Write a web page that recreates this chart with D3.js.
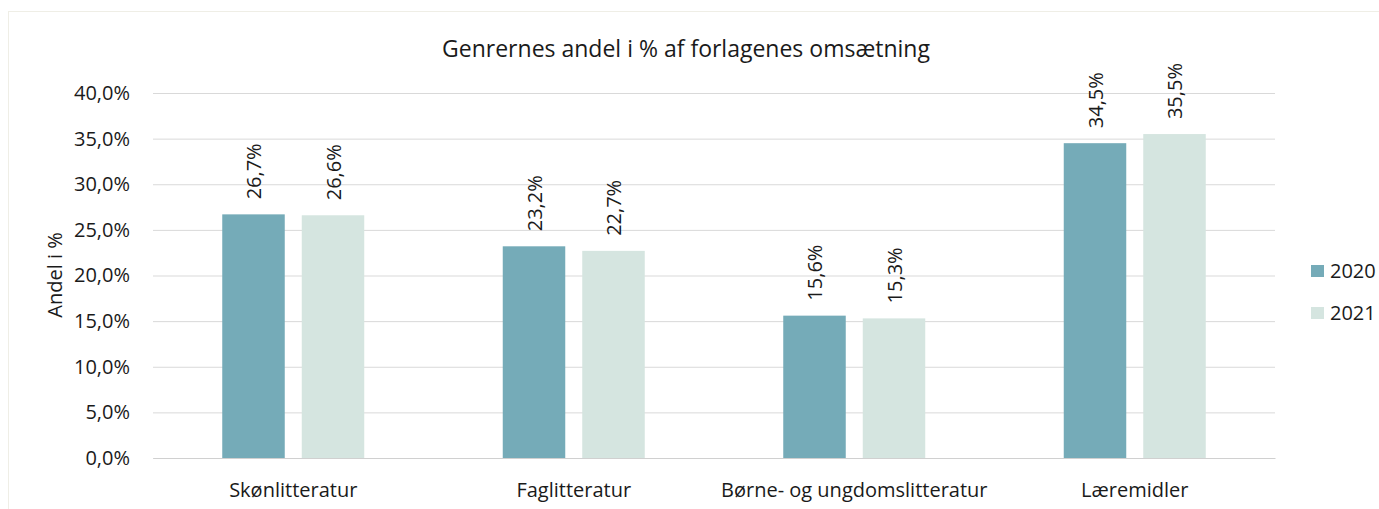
<!DOCTYPE html>
<html><head><meta charset="utf-8">
<script src="https://cdn.jsdelivr.net/npm/d3@7"></script>
<style>body{margin:0;background:#fff}text{font-family:"Open Sans",sans-serif;fill:#1a1a1a}</style>
</head><body>
<svg id="c" width="1379" height="509"></svg>
<script>
const categories = ["Skønlitteratur","Faglitteratur","Børne- og ungdomslitteratur","Læremidler"];
const seriesNames = ["2020","2021"];
const values2020 = [26.7,23.2,15.6,34.5];
const values2021 = [26.6,22.7,15.3,35.5];
const yTicks = [0,5,10,15,20,25,30,35,40];
const colors = ["#75abb8","#d5e5e0"];
const fmt = v => d3.format(".1f")(v).replace(".",",") + "%";

const svg = d3.select("#c");
svg.append("rect").attr("x",8.5).attr("y",11.5).attr("width",1400).attr("height",600)
  .attr("fill","#fff").attr("stroke","#efeee6");

const L=153,R=1275,T=93,B=458;
const x = d3.scaleBand().domain(categories).range([L,R]);
const y = d3.scaleLinear().domain([0,40]).range([B,T]);
const barW=62.5, gap=17, step=barW+gap;
const xs = d3.scaleBand().domain(seriesNames).range([-(step*2-gap)/2, (step*2-gap)/2])
  .paddingInner(gap/step).paddingOuter(0);

const ya = svg.append("g").attr("transform",`translate(${L},0)`)
  .call(d3.axisLeft(y).tickValues(yTicks).tickSize(-(R-L)).tickFormat(fmt).tickPadding(23));
ya.select(".domain").remove();
ya.selectAll("line").attr("stroke","#d9d9d9");
ya.selectAll("text").attr("font-size",20).attr("fill","#1a1a1a");

const xa = svg.append("g").attr("transform",`translate(0,${B})`)
  .call(d3.axisBottom(x).tickSize(0).tickPadding(25));
xa.select(".domain").attr("stroke","#d0d0d0");
xa.selectAll("text").attr("font-size",20).attr("fill","#1a1a1a");

const data = categories.map((c,i)=>({c, v:[values2020[i],values2021[i]]}));
const g = svg.append("g");
data.forEach(d=>{
  seriesNames.forEach((s,j)=>{
    const cx = x(d.c)+x.bandwidth()/2 + xs(s);
    g.append("rect").attr("x",cx).attr("y",y(d.v[j])).attr("width",xs.bandwidth())
      .attr("height",B-y(d.v[j])).attr("fill",colors[j]);
    const tx = cx + xs.bandwidth()/2 + 7.5, ty = y(d.v[j]) - 15;
    g.append("text").attr("transform",`translate(${tx},${ty}) rotate(-90)`)
      .attr("font-size",20).text(fmt(d.v[j]));
  });
});

svg.append("text").attr("x",686).attr("y",57).attr("text-anchor","middle")
  .attr("font-size",23).text("Genrernes andel i % af forlagenes omsætning");
svg.append("text").attr("transform","translate(62,275) rotate(-90)").attr("text-anchor","middle")
  .attr("font-size",20).text("Andel i %");

const lg = svg.append("g");
seriesNames.forEach((s,j)=>{
  const yy = 271 + j*42;
  lg.append("rect").attr("x",1311).attr("y",yy-6).attr("width",13).attr("height",12).attr("fill",colors[j]);
  lg.append("text").attr("x",1330).attr("y",yy+7).attr("font-size",20).text(s);
});
</script>
</body></html>
